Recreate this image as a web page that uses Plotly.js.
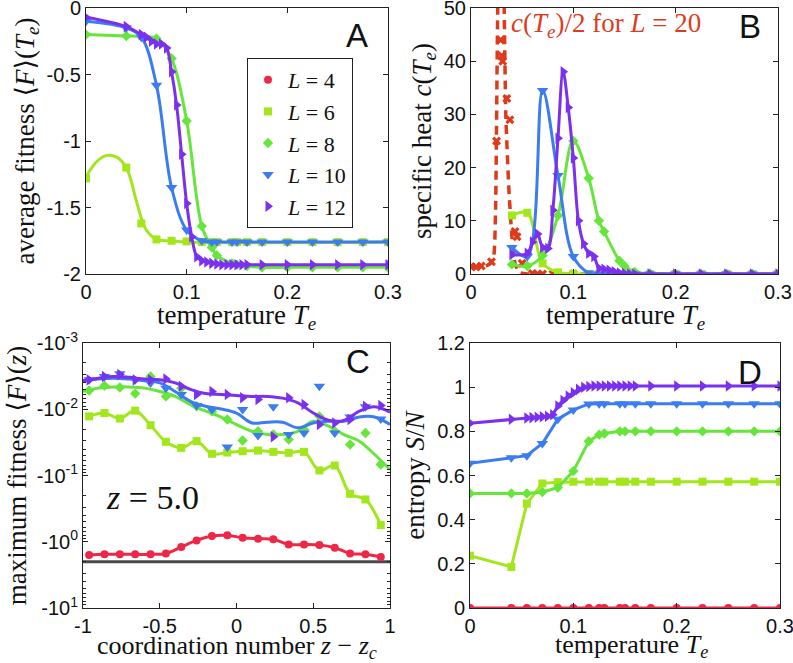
<!DOCTYPE html>
<html>
<head>
<meta charset="utf-8">
<script src="https://cdn.plot.ly/plotly-3.0.1.min.js"></script>
<style>
  html, body { margin: 0; padding: 0; background: #fff; }
  #plot { width: 793px; height: 663px; }
</style>
</head>
<body>
<div id="plot"></div>
<script>
// temperature grids
let T = [0, 0.04, 0.055, 0.07, 0.085, 0.1, 0.115, 0.125, 0.13, 0.145, 0.15, 0.16, 0.175, 0.2, 0.225, 0.25, 0.275, 0.3]
let T12 = [0, 0.04, 0.055, 0.06, 0.065, 0.07, 0.075, 0.08, 0.085, 0.09, 0.095, 0.1, 0.105, 0.11, 0.115, 0.12, 0.125, 0.13, 0.135, 0.14, 0.145, 0.15, 0.155, 0.16, 0.175, 0.2, 0.225, 0.25, 0.275, 0.3]
let T20 = [0, 0.005, 0.01, 0.02, 0.025, 0.029, 0.03, 0.031, 0.035, 0.038, 0.043, 0.045, 0.05, 0.06, 0.065, 0.07, 0.08, 0.1, 0.125, 0.15, 0.2, 0.25, 0.3]

// A: average fitness <F>(Te)  (L = 4 lies outside this view)
let fitA6 = [-1.28, -1.2, -1.62, -1.74, -1.75, -1.755, -1.76, -1.76, -1.76, -1.76, -1.76, -1.76, -1.76, -1.76, -1.76, -1.76, -1.76, -1.76]
let fitA8 = [-0.2, -0.21, -0.215, -0.23, -0.38, -0.85, -1.64, -1.8, -1.86, -1.92, -1.93, -1.94, -1.95, -1.95, -1.95, -1.95, -1.95, -1.95]
let fitA10 = [-0.1, -0.15, -0.22, -0.58, -1.35, -1.67, -1.75, -1.76, -1.76, -1.76, -1.76, -1.76, -1.76, -1.76, -1.76, -1.76, -1.76, -1.76]
let fitA12 = [-0.07, -0.14, -0.2, -0.22, -0.25, -0.27, -0.27, -0.3, -0.48, -0.73, -1.1, -1.47, -1.72, -1.87, -1.9, -1.91, -1.92, -1.925, -1.93, -1.93, -1.93, -1.93, -1.93, -1.93, -1.93, -1.93, -1.93, -1.93, -1.93, -1.93]
// smooth fit for L = 6 (has a hump the points alone don't show)
let curveT6 = [0, 0.01, 0.02, 0.03, 0.04, 0.05, 0.055, 0.06, 0.07, 0.085, 0.1, 0.3]
let curveA6 = [-1.27, -1.16, -1.11, -1.12, -1.2, -1.45, -1.58, -1.67, -1.74, -1.75, -1.76, -1.76]

// B: specific heat c(Te)
let heatB6 = [null, 11, 11.5, 2, 0.3, 0.05, 0, 0, 0, 0, 0, 0, 0, 0, 0, 0, 0, 0]
let heatB8 = [null, 1.8, 1.5, 3.5, 11, 25, 18, 10, 8, 2.5, 1.5, 0.4, 0.1, 0, 0, 0, 0, 0]
let heatB10 = [null, 5, 3.3, 34.5, 18.5, 3.3, 0.2, 0, 0, 0, 0, 0, 0, 0, 0, 0, 0, 0]
let heatB12 = [null, 3.6, 3.9, 6, 7.5, 5, 4.8, 12, 25.5, 38, 31.3, 21.8, 10, 5.7, 3.9, 3.3, 1.1, 0.9, 0.7, 0.4, 0.2, 0.1, 0, 0, 0, 0, 0, 0, 0, 0]
let heatB20 = [1.4, 1.3, 1.5, 2.3, 25, 44, 41, 40, 33, 29, 8, 7, 2, 0.1, 0, 0, 0, 0, 0, 0, 0, 0, 0]
// dashed fit for L = 20 (runs off the top of the axis)
let fitT20 = [0, 0.01, 0.018, 0.022, 0.024, 0.026, 0.029, 0.032, 0.034, 0.037, 0.04, 0.043, 0.047, 0.055, 0.1, 0.2, 0.3]
let fitB20 = [1.2, 1.3, 1.8, 3, 12, 48, 75, 55, 30, 16, 7, 2, 0.3, 0, 0, 0, 0]

// C: maximum fitness, stored as |<F>| (axis shows -|F| on a log scale)
let zC = [-0.96, -0.86, -0.76, -0.66, -0.56, -0.46, -0.36, -0.26, -0.16, -0.06, 0.04, 0.14, 0.24, 0.34, 0.44, 0.54, 0.64, 0.74, 0.84, 0.94]
let magC4 = [1.58, 1.55, 1.55, 1.55, 1.55, 1.5, 1.2, 0.955, 0.82, 0.8, 0.87, 0.9, 0.92, 1.1, 1.1, 1.12, 1.23, 1.5, 1.55, 1.7]
let magC6 = [0.0128, 0.0114, 0.0138, 0.0105, 0.0174, 0.031, 0.0383, 0.0303, 0.047, 0.045, 0.043, 0.042, 0.044, 0.0455, 0.044, 0.084, 0.0707, 0.189, 0.23, 0.561]
let magC8 = [0.0052, 0.0044, 0.0047, 0.0058, 0.0032, 0.0064, 0.0048, 0.009, 0.0107, 0.0143, 0.0297, 0.0215, 0.0241, 0.0287, 0.0203, 0.0128, 0.0215, 0.0341, 0.0228, 0.0683]
let magC10 = [0.0036, 0.0032, 0.0029, 0.0036, 0.004, 0.0048, 0.006, 0.0088, 0.0101, 0.037, 0.0101, 0.0249, 0.0092, 0.0241, 0.0228, 0.0045, 0.0228, 0.0131, 0.0092, 0.014]
let magC12 = [0.0036, 0.0032, 0.003, 0.0036, 0.0036, 0.0035, 0.0045, 0.006, 0.0054, 0.006, 0.0067, 0.0071, 0.0261, 0.0067, 0.0085, 0.017, 0.0161, 0.0143, 0.009, 0.0088]
// smooth fits drawn through the scattered points
let zFit = [-1, -0.9, -0.8, -0.7, -0.6, -0.5, -0.4, -0.3, -0.2, -0.1, 0, 0.1, 0.2, 0.3, 0.4, 0.5, 0.6, 0.7, 0.8, 0.9, 1]
let fitC8 = [0.0054, 0.0048, 0.0046, 0.0046, 0.0048, 0.0054, 0.0064, 0.0085, 0.0107, 0.0131, 0.017, 0.0215, 0.0241, 0.0241, 0.0215, 0.0152, 0.018, 0.0241, 0.0303, 0.0482, 0.0813]
let fitC10 = [0.0038, 0.0035, 0.0034, 0.0035, 0.0037, 0.004, 0.0054, 0.0076, 0.009, 0.0099, 0.0114, 0.0161, 0.0157, 0.0157, 0.0191, 0.0161, 0.0152, 0.0152, 0.0131, 0.0131, 0.017]
let fitC12 = [0.0037, 0.0034, 0.0032, 0.0033, 0.0035, 0.0036, 0.004, 0.005, 0.0058, 0.006, 0.0062, 0.0064, 0.0064, 0.0068, 0.008, 0.0114, 0.0147, 0.0147, 0.0107, 0.0092, 0.0111]
let groundZ = [-1, 1]
let groundC = [2, 2]

// D: entropy S/N
let entD4 = [0, 0, 0, 0, 0, 0, 0, 0, 0, 0, 0, 0, 0, 0, 0, 0, 0, 0]
let entD6 = [0.237, 0.186, 0.473, 0.564, 0.57, 0.572, 0.572, 0.572, 0.572, 0.572, 0.572, 0.572, 0.572, 0.572, 0.572, 0.572, 0.572, 0.572]
let entD8 = [0.519, 0.519, 0.519, 0.525, 0.545, 0.62, 0.755, 0.785, 0.79, 0.8, 0.8, 0.8, 0.8, 0.8, 0.8, 0.8, 0.8, 0.8]
let entD10 = [0.655, 0.68, 0.69, 0.745, 0.855, 0.897, 0.924, 0.925, 0.925, 0.925, 0.925, 0.925, 0.925, 0.925, 0.925, 0.925, 0.925, 0.925]
let entD12 = [0.837, 0.855, 0.86, 0.862, 0.864, 0.866, 0.868, 0.875, 0.915, 0.94, 0.96, 0.975, 0.99, 1.0, 1.003, 1.005, 1.005, 1.005, 1.005, 1.005, 1.005, 1.005, 1.005, 1.005, 1.005, 1.005, 1.005, 1.005, 1.005, 1.005]

let sizes = ['4', '6', '8', '10', '12']
let colors = ['#ee2747', '#a2e61c', '#66e63a', '#3b7cf0', '#7a30ee']
let symbols = ['circle', 'square', 'diamond', 'triangle-down', 'triangle-right']
let red20 = '#de3b1c'

let serif = 'Liberation Serif, DejaVu Serif, serif'
let sans = 'Liberation Sans, Arial, sans-serif'

let data = []

// line + marker pair for one series
function addSeries(xa, ya, x, y, i, shape, legend, lineY, lineX) {
    data.push({
        x: lineX || x, y: lineY || y, xaxis: xa, yaxis: ya,
        mode: 'lines', line: {color: colors[i], width: 3, shape: shape, smoothing: 1},
        showlegend: false, hoverinfo: 'skip'
    })
    data.push({
        x: x, y: y, xaxis: xa, yaxis: ya,
        mode: 'markers', name: '<i>L</i> = ' + sizes[i], legendrank: i + 1,
        marker: {color: colors[i], symbol: symbols[i], size: i >= 3 ? 10 : 8},
        showlegend: legend
    })
}

// Panel A
addSeries('x', 'y', T, fitA6, 1, 'spline', true, curveA6, curveT6)
addSeries('x', 'y', T, fitA8, 2, 'spline', true)
addSeries('x', 'y', T, fitA10, 3, 'spline', true)
addSeries('x', 'y', T12, fitA12, 4, 'spline', true)

// Panel B
data.push({
    x: fitT20, y: fitB20, xaxis: 'x2', yaxis: 'y2', mode: 'lines',
    line: {color: red20, width: 3.5, dash: '9px,6px', shape: 'spline', smoothing: 0.5},
    showlegend: false
})
data.push({
    x: T20, y: heatB20, xaxis: 'x2', yaxis: 'y2', mode: 'markers',
    marker: {color: red20, symbol: 'x', size: 8},
    showlegend: false
})
addSeries('x2', 'y2', T, heatB6, 1, 'spline', false)
addSeries('x2', 'y2', T, heatB8, 2, 'spline', false)
addSeries('x2', 'y2', T, heatB10, 3, 'spline', false)
addSeries('x2', 'y2', T12, heatB12, 4, 'spline', false)

// Panel C
data.push({
    x: groundZ, y: groundC, xaxis: 'x3', yaxis: 'y3', mode: 'lines',
    line: {color: '#4a4a4a', width: 3}, showlegend: false
})
addSeries('x3', 'y3', zC, magC4, 0, 'spline', false)
addSeries('x3', 'y3', zC, magC6, 1, 'spline', false)
addSeries('x3', 'y3', zC, magC8, 2, 'spline', false, fitC8, zFit)
addSeries('x3', 'y3', zC, magC10, 3, 'spline', false, fitC10, zFit)
addSeries('x3', 'y3', zC, magC12, 4, 'spline', false, fitC12, zFit)

// Panel D (its L = 4 markers feed the shared legend)
addSeries('x4', 'y4', T, entD4, 0, 'linear', true)
addSeries('x4', 'y4', T, entD6, 1, 'linear', false)
addSeries('x4', 'y4', T, entD8, 2, 'linear', false)
addSeries('x4', 'y4', T, entD10, 3, 'linear', false)
addSeries('x4', 'y4', T12, entD12, 4, 'linear', false)

// axis styling
function axis(extra) {
    let base = {
        showline: true, mirror: 'ticks', linecolor: '#222', linewidth: 1,
        ticks: 'inside', ticklen: 5, tickcolor: '#222', showgrid: false, zeroline: false,
        tickfont: {family: sans, size: 20, color: '#111'},
        ticklabeloverflow: 'allow', automargin: false
    }
    return Object.assign(base, extra)
}
function title(text, standoff) {
    return {text: text, font: {family: serif, size: 27, color: '#111'}, standoff: standoff}
}

let minorLog = []
for (let d = -3; d < 1; d++) {
    for (let k = 2; k < 10; k++) minorLog.push(k * Math.pow(10, d))
}

let W = 793, H = 663
let layout = {
    width: W, height: H,
    margin: {l: 0, r: 0, t: 0, b: 0},
    paper_bgcolor: '#fff', plot_bgcolor: '#fff',
    showlegend: true,
    legend: {
        x: 247 / W, y: 1 - 58 / H, xanchor: 'left', yanchor: 'top',
        bordercolor: '#222', borderwidth: 1, bgcolor: '#fff',
        font: {family: serif, size: 22, color: '#111'}, tracegroupgap: 0
    },
    xaxis: axis({domain: [86 / W, 388 / W], range: [0, 0.3], anchor: 'y',
        tickvals: [0, 0.1, 0.2, 0.3]}),
    yaxis: axis({domain: [1 - 274 / H, 1 - 8 / H], range: [-2, 0], anchor: 'x',
        tickvals: [-2, -1.5, -1, -0.5, 0], ticktext: ['-2', '-1.5', '-1', '-0.5', '0'],
        title: title('average fitness ⟨<i>F</i>⟩(<i>T<sub>e</sub></i>)', 4)}),
    xaxis2: axis({domain: [471 / W, 778 / W], range: [0, 0.3], anchor: 'y2',
        tickvals: [0, 0.1, 0.2, 0.3]}),
    yaxis2: axis({domain: [1 - 274 / H, 1 - 8 / H], range: [0, 50], anchor: 'x2',
        tickvals: [0, 10, 20, 30, 40, 50],
        title: title('specific heat <i>c</i>(<i>T<sub>e</sub></i>)', 4)}),
    xaxis3: axis({domain: [83 / W, 390 / W], range: [-1, 1], anchor: 'y3',
        tickvals: [-1, -0.5, 0, 0.5, 1], ticktext: ['-1', '-0.5', '0', '0.5', '1']}),
    yaxis3: axis({domain: [1 - 608 / H, 1 - 343 / H], type: 'log', range: [1, -3], anchor: 'x3',
        tickvals: [0.001, 0.01, 0.1, 1, 10],
        ticktext: ['-10<sup>-3</sup>', '-10<sup>-2</sup>', '-10<sup>-1</sup>', '-10<sup>0</sup>', '-10<sup>1</sup>'],
        minor: {tickmode: 'array', tickvals: minorLog, ticks: 'inside', ticklen: 3, tickcolor: '#222'},
        title: title('maximum fitness ⟨<i>F</i>⟩(<i>z</i>)', 2)}),
    xaxis4: axis({domain: [470 / W, 780 / W], range: [0, 0.3], anchor: 'y4',
        tickvals: [0, 0.1, 0.2, 0.3]}),
    yaxis4: axis({domain: [1 - 608 / H, 1 - 343 / H], range: [0, 1.2], anchor: 'x4',
        tickvals: [0, 0.2, 0.4, 0.6, 0.8, 1, 1.2],
        title: title('entropy <i>S</i>/<i>N</i>', 4)}),
    annotations: [
        {text: 'A', x: 357 / W, y: 1 - 35 / H},
        {text: 'B', x: 750 / W, y: 1 - 27 / H},
        {text: 'C', x: 358 / W, y: 1 - 362 / H},
        {text: 'D', x: 750 / W, y: 1 - 372 / H}
    ].map(a => Object.assign(a, {xref: 'paper', yref: 'paper', showarrow: false,
        xanchor: 'center', yanchor: 'middle',
        font: {family: sans, size: 33, color: '#111'}}))
}

// x-axis titles placed as the reference has them, tight under the tick labels
let xTitles = [
    {text: 'temperature <i>T<sub>e</sub></i>', x: 236, y: 317, size: 27},
    {text: 'temperature <i>T<sub>e</sub></i>', x: 625, y: 317, size: 27},
    {text: 'coordination number <i>z</i> − <i>z<sub>c</sub></i>', x: 237, y: 647, size: 26},
    {text: 'temperature <i>T<sub>e</sub></i>', x: 631, y: 646, size: 26}
]
xTitles.forEach(t => layout.annotations.push({
    text: t.text, xref: 'paper', yref: 'paper', x: t.x / W, y: 1 - t.y / H,
    xanchor: 'center', yanchor: 'middle', showarrow: false,
    font: {family: serif, size: t.size, color: '#111'}
}))

layout.annotations.push({
    text: '<i>z</i> = 5.0', xref: 'paper', yref: 'paper', x: 152 / W, y: 1 - 497 / H,
    xanchor: 'center', yanchor: 'middle',
    showarrow: false, font: {family: serif, size: 34, color: '#111'}
})
layout.annotations.push({
    text: '<i>c</i>(<i>T<sub>e</sub></i>)/2 for <i>L</i> = 20', xref: 'paper', yref: 'paper',
    x: 606 / W, y: 1 - 25 / H, xanchor: 'center', yanchor: 'middle',
    showarrow: false, font: {family: serif, size: 27, color: red20}
})

Plotly.newPlot('plot', data, layout, {displayModeBar: false, staticPlot: true})
</script>
</body>
</html>
